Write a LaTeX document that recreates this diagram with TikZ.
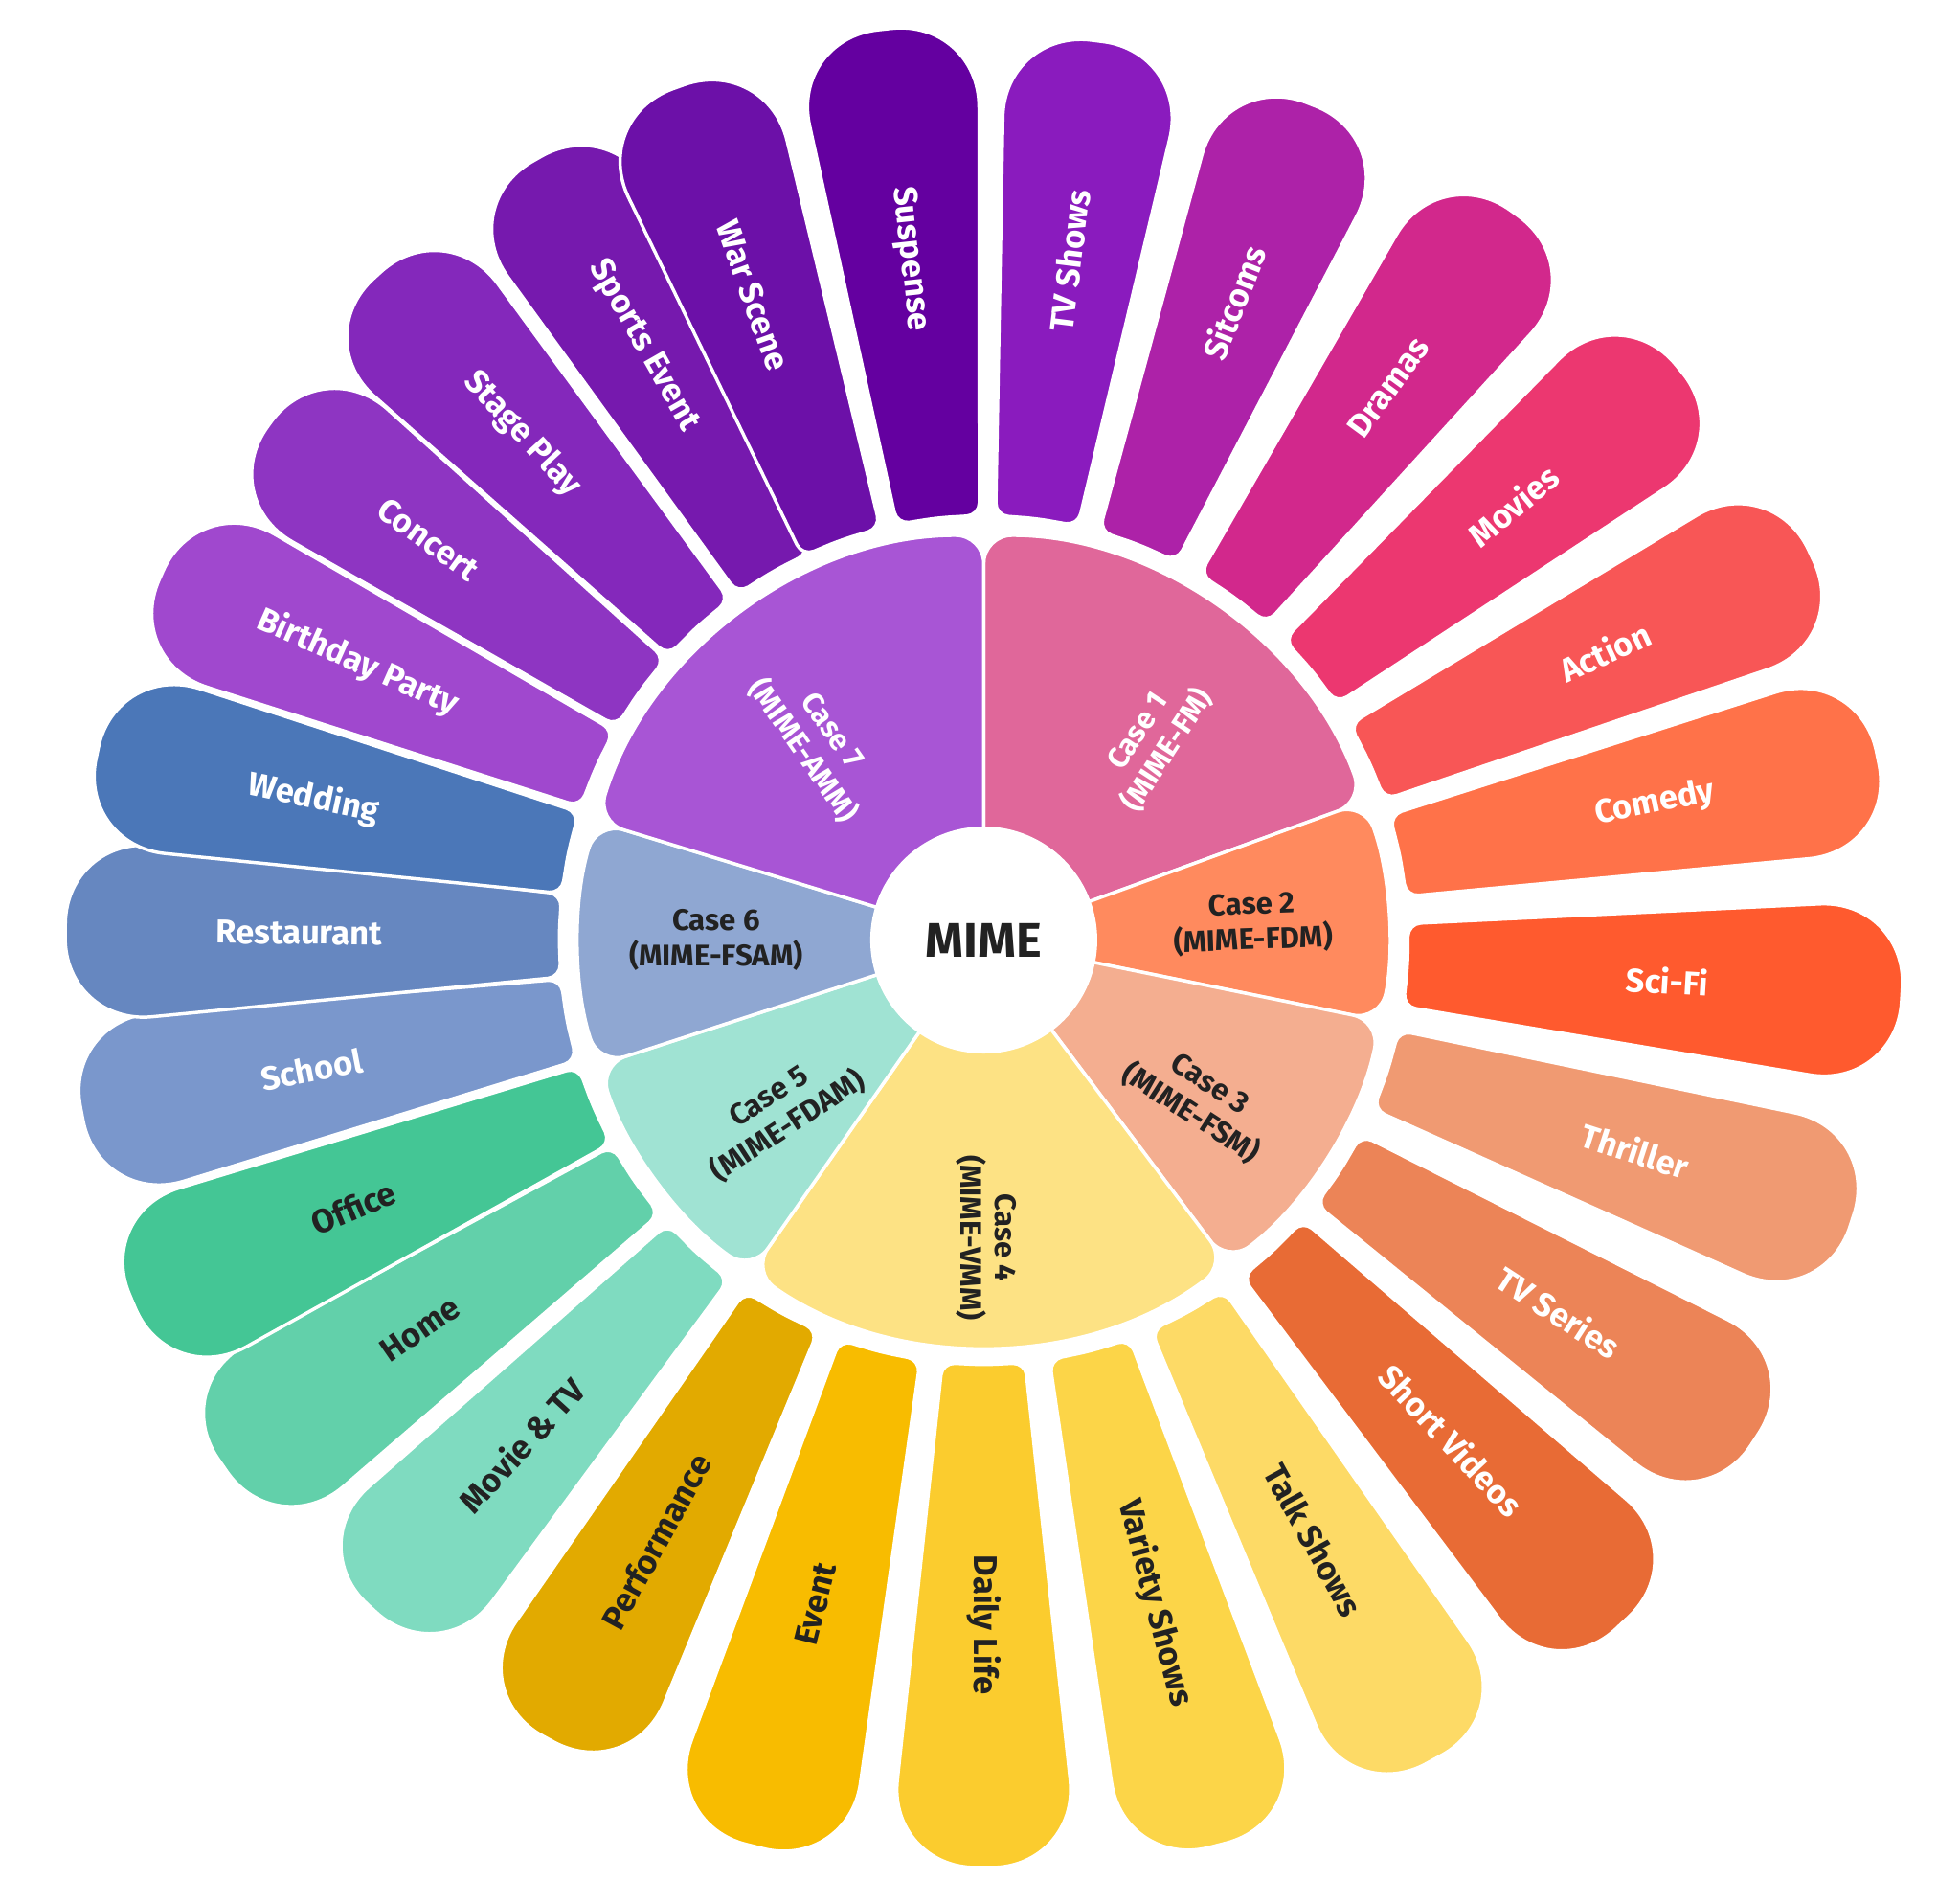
\documentclass[tikz,border=0pt]{standalone}
\usepackage{fontspec}
\setmainfont{Fira Sans}
\begin{document}
\begin{tikzpicture}[x=0.02cm,y=0.02cm]
\tikzset{
  petlabel/.style={font=\bfseries\fontsize{15}{17}\selectfont, anchor=center, inner sep=0},
  caselabel/.style={font=\bfseries\fontsize{13.5}{16}\selectfont, align=center, anchor=center, inner sep=0},
}
\useasboundingbox (0,0) rectangle (1560,-1496);
\definecolor{dk}{HTML}{222222}
\begin{scope}[shift={(783,-748)}]
\foreach \a/\r/\c/\t/\l [count=\i] in {
 96.2/733/6400A0/white/Suspense,
 82.8/725/8A1BBE/white/TV Shows,
 68.6/718/AD22A8/white/Sitcoms,
 53.8/720/D2288C/white/Dramas,
 39.4/720/EC3770/white/Movies,
 24.9/730/F85656/white/Action,
 11.5/730/FF7249/white/Comedy,
 -3.4/736/FF5A2E/white/Sci-Fi,
 -17.9/730/F09A72/white/Thriller,
 -32.9/735/EC8457/white/TV Series,
 -46.9/748/E86B35/white/Short Videos,
 -61.2/748/FDDA66/dk/Talk Shows,
 -75.5/748/FCD548/dk/Variety Shows,
 -90/742/FBCC2E/dk/Daily Life,
 -104.2/748/F8BC00/dk/Event,
 -118.6/728/E2AA00/dk/Performance,
 -132.5/725/7FDBC0/dk/Movie \& TV,
 -145.4/740/62D0AA/dk/Home,
 -157/740/44C695/dk/Office,
 -169.1/735/7A97CC/white/School,
 179.4/735/6687C0/white/Restaurant,
 168.1/725/4B77B8/white/Wedding,
 156.1/720/A048CE/white/Birthday Party,
 144.2/705/8E35C2/white/Concert,
 132.4/720/8428BB/white/Stage Play,
 119.8/720/7619AE/white/Sports Event,
 109.7/725/6C10A8/white/War Scene}
{
  \definecolor{pc}{HTML}{\c}
  \pgfmathsetmacro{\lo}{\a-5.9}
  \pgfmathsetmacro{\hi}{\a+5.9}
  \pgfmathsetmacro{\ilo}{\a-5.6}
  \pgfmathsetmacro{\ihi}{\a+5.6}
  \path[fill=pc, draw=white, line width=1.5pt, rounded corners=0.2cm]
    (\a:338) -- (\ilo:338) [rounded corners=1.4cm] -- (\lo:\r) -- (\hi:\r)
    [rounded corners=0.2cm] -- (\ihi:338) -- cycle;
  \pgfmathsetmacro{\rot}{ifthenelse(\a>-90.5 && \a<=90, \a, \a+180)}
  \node[petlabel, text=\t, rotate=\rot] (p\i) at (\a:545) {\l};
}
\foreach \s/\e/\c/\t/\n in {
 20/90/E0679A/white/c1,
 -11.5/20/FF8A5E/dk/c2,
 -53/-11.5/F4AE90/dk/c3,
 -125/-53/FDE284/dk/c4,
 -162/-125/A0E3D3/dk/c5,
 163/198/8FA7D2/dk/c6,
 90/163/A855D5/white/c7}
{
  \definecolor{cc}{HTML}{\c}
  \path[fill=cc, draw=white, line width=1.5pt, rounded corners=0.45cm]
    (0,0) -- (\s:322) arc[start angle=\s, end angle=\e, radius=322] -- cycle;
}
\node[caselabel, text=white, rotate=57] (k1) at (135,158) {Case 1\\(MIME-FM)};
\node[caselabel, text=dk, rotate=2] (k2) at (214,13) {Case 2\\(MIME-FDM)};
\node[caselabel, text=dk, rotate=-33] (k3) at (172,-127) {Case 3\\(MIME-FSM)};
\node[caselabel, text=dk, rotate=-90] (k4) at (2,-237) {Case 4\\(MIME-VMM)};
\node[caselabel, text=dk, rotate=33] (k5) at (-163,-137) {Case 5\\(MIME-FDAM)};
\node[caselabel, text=dk, rotate=0] (k6) at (-213,0) {Case 6\\(MIME-FSAM)};
\node[caselabel, text=white, rotate=-55] (k7) at (-133,158) {Case 7\\(MIME-AMM)};
\node[circle, fill=white, draw=white, line width=1.5pt, minimum size=178*0.02cm, inner sep=0,
  font=\bfseries\fontsize{22}{24}\selectfont, text=dk] (mime) at (0,0) {MIME};
\end{scope}
\end{tikzpicture}
\end{document}
